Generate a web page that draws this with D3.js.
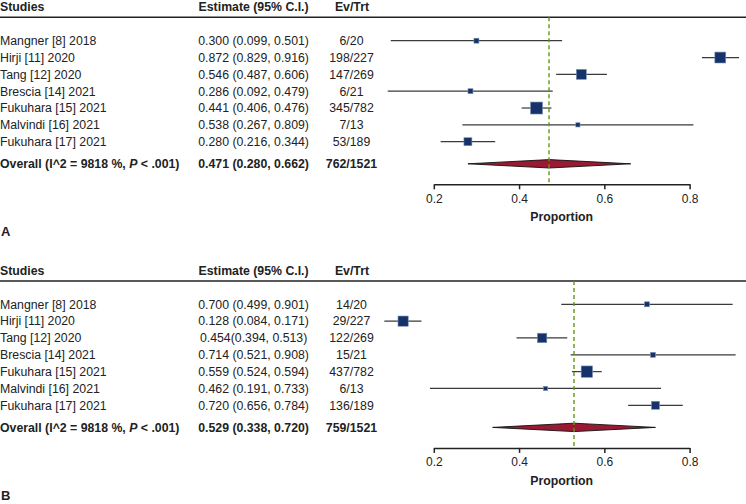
<!DOCTYPE html>
<html>
<head>
<meta charset="utf-8">
<script src="https://cdn.jsdelivr.net/npm/d3@7"></script>
<style>
  html, body { margin: 0; padding: 0; background: #fff; }
  svg text { font-family: "Liberation Sans", Arial, Helvetica, sans-serif; fill: #222; }
</style>
</head>
<body>
<svg id="chart" width="746" height="504"></svg>
<script>
// ---------- DATA ----------
const studies = ["Mangner [8] 2018", "Hirji [11] 2020", "Tang [12] 2020", "Brescia [14] 2021",
                 "Fukuhara [15] 2021", "Malvindi [16] 2021", "Fukuhara [17] 2021"];
const totals = [20, 227, 269, 21, 782, 13, 189];

// Panel A
const estA  = [0.300, 0.872, 0.546, 0.286, 0.441, 0.538, 0.280];
const lowA  = [0.099, 0.829, 0.487, 0.092, 0.406, 0.267, 0.216];
const highA = [0.501, 0.916, 0.606, 0.479, 0.476, 0.809, 0.344];
const eventsA = [6, 198, 147, 6, 345, 7, 53];
const weightA = [2.5, 12, 10, 2.5, 14.5, 1.8, 6.4];
const overallA = {est: 0.471, low: 0.280, high: 0.662, events: 762, total: 1521};
const estLabelsA = ["0.300 (0.099, 0.501)", "0.872 (0.829, 0.916)", "0.546 (0.487, 0.606)",
                    "0.286 (0.092, 0.479)", "0.441 (0.406, 0.476)", "0.538 (0.267, 0.809)",
                    "0.280 (0.216, 0.344)"];

// Panel B
const estB  = [0.700, 0.128, 0.454, 0.714, 0.559, 0.462, 0.720];
const lowB  = [0.499, 0.084, 0.394, 0.521, 0.524, 0.191, 0.656];
const highB = [0.901, 0.171, 0.513, 0.908, 0.594, 0.733, 0.784];
const eventsB = [14, 29, 122, 15, 437, 6, 136];
const weightB = [2.5, 10.5, 9, 2.5, 13, 1.8, 6.4];
const overallB = {est: 0.529, low: 0.338, high: 0.720, events: 759, total: 1521};
const estLabelsB = ["0.700 (0.499, 0.901)", "0.128 (0.084, 0.171)", "0.454(0.394, 0.513)",
                    "0.714 (0.521, 0.908)", "0.559 (0.524, 0.594)", "0.462 (0.191, 0.733)",
                    "0.720 (0.656, 0.784)"];

const xTicks = [0.2, 0.4, 0.6, 0.8];
const headers = ["Studies", "Estimate (95% C.I.)", "Ev/Trt"];
const overallTitle = ["Overall (I^2 = 9818 %, ", "P", " < .001)"];
const xLabel = "Proportion";
const panelLabels = ["A", "B"];

// ---------- DRAW ----------
const svg = d3.select("#chart");
const x = d3.scaleLinear().domain([0.2, 0.8]).range([433.8, 689.6]);
const size = d3.scaleSqrt().domain([0, 14.5]).range([0, 12]);
const fmt = d3.format(".3f");

function drawPanel(offsetY, panel) {
  const g = svg.append("g").attr("transform", `translate(0,${offsetY})`);
  const rows = studies.map((s, i) => ({
    name: s, est: panel.est[i], lo: panel.low[i], hi: panel.high[i],
    ev: panel.events[i], n: totals[i], w: panel.weight[i], label: panel.labels[i]
  }));
  const y = d3.scalePoint().domain(d3.range(rows.length)).range([40.7, 141.7]);
  const yOverall = 163.8;
  const yAxis = 184.3;
  const fs = "12.3px";

  // header
  const hy = 7;
  g.append("text").attr("x", 0).attr("y", hy).attr("dy", "0.35em")
    .attr("font-size", fs).attr("font-weight", "bold").text(headers[0]);
  g.append("text").attr("x", 253.6).attr("y", hy).attr("dy", "0.35em").attr("text-anchor", "middle")
    .attr("font-size", fs).attr("font-weight", "bold").text(headers[1]);
  g.append("text").attr("x", 352).attr("y", hy).attr("dy", "0.35em").attr("text-anchor", "middle")
    .attr("font-size", fs).attr("font-weight", "bold").text(headers[2]);
  g.append("line").attr("x1", 0).attr("x2", 746).attr("y1", 17.3).attr("y2", 17.3)
    .attr("stroke", "#222").attr("stroke-width", 1.5);

  // study rows text
  const rowG = g.selectAll("g.row").data(rows).join("g").attr("class", "row")
    .attr("transform", (d, i) => `translate(0,${y(i)})`);
  rowG.append("text").attr("x", 0).attr("dy", "0.35em").attr("font-size", fs).text(d => d.name);
  rowG.append("text").attr("x", 253.6).attr("dy", "0.35em").attr("text-anchor", "middle")
    .attr("font-size", fs).text(d => d.label);
  rowG.append("text").attr("x", 351.5).attr("dy", "0.35em").attr("text-anchor", "middle")
    .attr("font-size", fs).text(d => `${d.ev}/${d.n}`);

  // overall text
  const ot = g.append("text").attr("x", 0).attr("y", yOverall).attr("dy", "0.35em")
    .attr("font-size", fs).attr("font-weight", "bold");
  ot.append("tspan").text(overallTitle[0]);
  ot.append("tspan").attr("font-style", "italic").text(overallTitle[1]);
  ot.append("tspan").text(overallTitle[2]);
  const o = panel.overall;
  g.append("text").attr("x", 253.6).attr("y", yOverall).attr("dy", "0.35em").attr("text-anchor", "middle")
    .attr("font-size", fs).attr("font-weight", "bold")
    .text(`${fmt(o.est)} (${fmt(o.low)}, ${fmt(o.high)})`);
  g.append("text").attr("x", 351.5).attr("y", yOverall).attr("dy", "0.35em").attr("text-anchor", "middle")
    .attr("font-size", fs).attr("font-weight", "bold").text(`${o.events}/${o.total}`);

  // CI lines
  rowG.append("line").attr("x1", d => x(d.lo)).attr("x2", d => x(d.hi))
    .attr("stroke", "#3a3a3a").attr("stroke-width", 1.2);
  // squares
  rowG.append("rect")
    .attr("x", d => x(d.est) - size(d.w) / 2).attr("y", d => -size(d.w) / 2)
    .attr("width", d => size(d.w)).attr("height", d => size(d.w))
    .attr("fill", "#15326a").attr("stroke", "#7f93b5").attr("stroke-width", 0.6);

  // diamond
  const dh = 4.2;
  g.append("path")
    .attr("d", `M${x(o.low)},${yOverall} L${x(o.est)},${yOverall - dh} L${x(o.high)},${yOverall} L${x(o.est)},${yOverall + dh} Z`)
    .attr("fill", "#9b1a33").attr("stroke", "#111").attr("stroke-width", 0.9);

  // reference line
  const rx = Math.round(x(o.est));
  g.append("line").attr("x1", rx).attr("x2", rx).attr("y1", 17.3).attr("y2", yAxis)
    .attr("stroke", "#5f9a10").attr("stroke-width", 1.4).attr("stroke-dasharray", "4,3");

  // axis
  const ax = g.append("g").attr("transform", `translate(0,${yAxis})`)
    .call(d3.axisBottom(x).tickValues(xTicks).tickFormat(d3.format(".1f")).tickSize(5).tickSizeOuter(0));
  ax.select(".domain").attr("stroke", "#222").attr("stroke-width", 1.5);
  ax.selectAll(".tick line").attr("stroke", "#222").attr("stroke-width", 1.5);
  ax.selectAll(".tick text").attr("font-size", "12px").attr("fill", "#222")
    .attr("font-family", "'Liberation Sans', Arial, sans-serif").attr("y", 10);
  ax.select(".domain").lower();

  g.append("text").attr("x", 561.7).attr("y", 217).attr("dy", "0.35em").attr("text-anchor", "middle")
    .attr("font-size", fs).attr("font-weight", "bold").text(xLabel);

  g.append("text").attr("x", 1).attr("y", 231.8).attr("dy", "0.35em")
    .attr("font-size", "13px").attr("font-weight", "bold").text(panel.tag);
}

drawPanel(0, {est: estA, low: lowA, high: highA, events: eventsA, weight: weightA,
              overall: overallA, labels: estLabelsA, tag: panelLabels[0]});
drawPanel(263.6, {est: estB, low: lowB, high: highB, events: eventsB, weight: weightB,
              overall: overallB, labels: estLabelsB, tag: panelLabels[1]});
</script>
</body>
</html>
